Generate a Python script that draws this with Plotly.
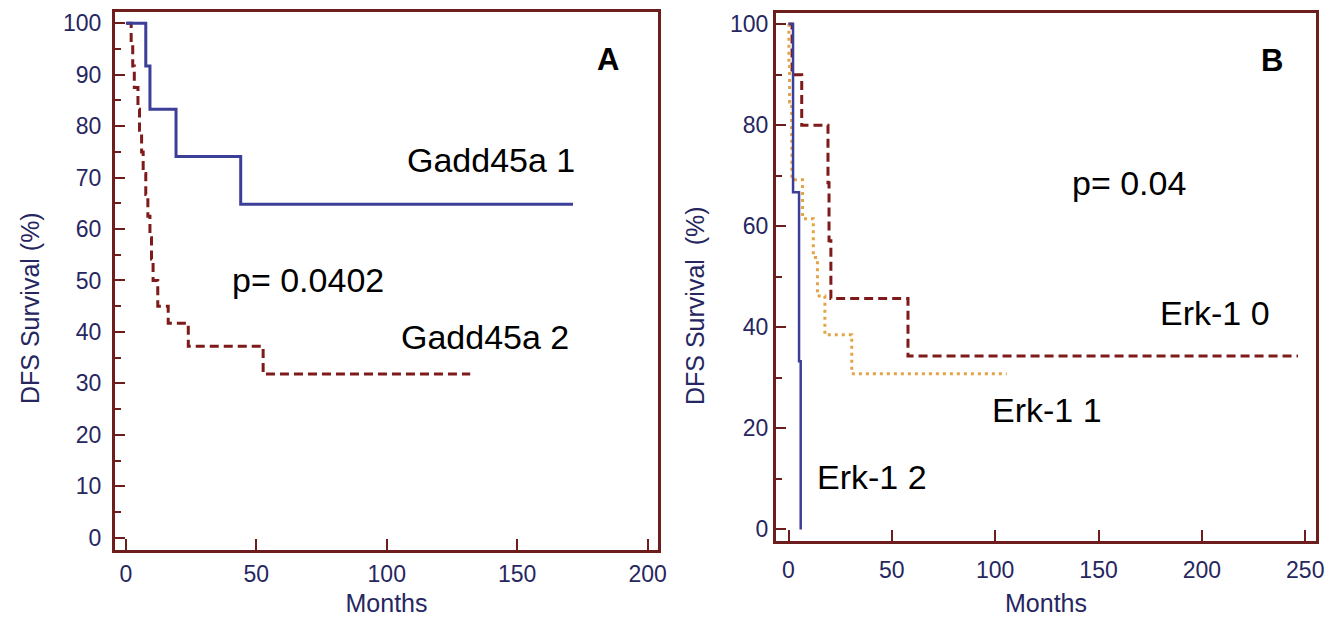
import plotly.graph_objects as go

# ---------------- data ----------------
# Panel A : Gadd45a
a1_months = [0, 7.6, 9.2, 19.2, 44.0, 171.4]
a1_surv = [100, 91.7, 83.3, 74.1, 64.8, 64.8]
a2_months = [0.3, 2.0, 2.6, 3.2, 4.6, 5.2, 6.0, 6.6, 7.6, 8.4, 9.2, 9.8, 10.4, 12.2, 16.2, 23.9, 52.6, 132.0]
a2_surv = [100, 95.8, 91.7, 87.5, 83.3, 79.2, 75.0, 70.8, 66.7, 62.5, 58.3, 54.2, 50.0, 45.0, 41.7, 37.2, 31.8, 31.8]

# Panel B : Erk-1
b0_months = [0, 1.7, 6.4, 19.1, 19.6, 20.5, 57.8, 246.5]
b0_surv = [100, 90, 80, 68.6, 57.1, 45.7, 34.3, 34.3]
b1_months = [0, 0.2, 0.5, 1.5, 1.6, 6.8, 12.0, 14.0, 17.6, 30.6, 105.6]
b1_surv = [100, 92.3, 84.6, 76.9, 69.2, 61.5, 53.8, 46.2, 38.5, 30.8, 30.8]
b2_months = [0, 2.2, 5.1, 5.9]
b2_surv = [100, 66.7, 33.3, 0]

a_xticks = [0, 50, 100, 150, 200]
b_xticks = [0, 50, 100, 150, 200, 250]

# ---------------- layout helpers ----------------
PAGE_W, PAGE_H = 1335, 625
OFF = 8                      # default body margin of the html page
W, H = PAGE_W - 2 * OFF, PAGE_H - 2 * OFF


def px_x(p):
    return (p - OFF) / W


def px_y(p):
    return 1 - (p - OFF) / H


FRAME = "#6e1d1d"
LABEL = "#262660"
BLUE = "#3b3f97"
RED = "#7e1a1a"
ORANGE = "#e2a446"
FONT = "Liberation Sans, Arial, sans-serif"

fig = go.Figure()

fig.add_trace(go.Scatter(x=a2_months, y=a2_surv, mode="lines", line_shape="hv",
                         line=dict(color=RED, width=3, dash="9px,5px"),
                         xaxis="x", yaxis="y", name="Gadd45a 2"))
fig.add_trace(go.Scatter(x=a1_months, y=a1_surv, mode="lines", line_shape="hv",
                         line=dict(color=BLUE, width=3),
                         xaxis="x", yaxis="y", name="Gadd45a 1"))

fig.add_trace(go.Scatter(x=b0_months, y=b0_surv, mode="lines", line_shape="hv",
                         line=dict(color=RED, width=3, dash="9px,5px"),
                         xaxis="x2", yaxis="y2", name="Erk-1 0"))
fig.add_trace(go.Scatter(x=b1_months, y=b1_surv, mode="lines", line_shape="hv",
                         line=dict(color=ORANGE, width=3, dash="3px,4px"),
                         xaxis="x2", yaxis="y2", name="Erk-1 1"))
fig.add_trace(go.Scatter(x=b2_months, y=b2_surv, mode="lines", line_shape="hv",
                         line=dict(color=BLUE, width=2.5),
                         xaxis="x2", yaxis="y2", name="Erk-1 2"))

tickfont = dict(family=FONT, size=23, color=LABEL)
titlefont = dict(family=FONT, size=25, color=LABEL)


def xaxis_style(domain, rng, ticks, anchor, standoff):
    return dict(domain=domain, range=rng, anchor=anchor, tickvals=ticks,
                ticks="inside", ticklen=11, tickwidth=2, tickcolor=FRAME,
                showline=True, linecolor=FRAME, linewidth=3, mirror=True,
                showgrid=False, zeroline=False, automargin=False,
                tickfont=tickfont, ticklabelstandoff=standoff,
                title=dict(text="Months", font=titlefont, standoff=21))


def yaxis_style(domain, rng, dtick, minor, anchor, standoff):
    return dict(domain=domain, range=rng, anchor=anchor, tick0=0, dtick=dtick,
                ticks="inside", ticklen=10, tickwidth=2, tickcolor=FRAME,
                minor=dict(ticks="inside", ticklen=6, tickwidth=2, tickcolor=FRAME,
                           dtick=minor, tick0=0),
                showline=True, linecolor=FRAME, linewidth=3, mirror=True,
                showgrid=False, zeroline=False, automargin=False,
                tickfont=tickfont, ticklabelstandoff=standoff)


fig.update_layout(
    width=W, height=H,
    margin=dict(l=0, r=0, t=0, b=0),
    paper_bgcolor="white", plot_bgcolor="white",
    showlegend=False,
    font=dict(family=FONT),
    xaxis=xaxis_style([px_x(115), px_x(658)], [-4.2, 204], a_xticks, "y", 1),
    yaxis=yaxis_style([px_y(550), px_y(12)], [-2.4, 102.2], 10, 5, "x", 6),
    xaxis2=xaxis_style([px_x(776), px_x(1316)], [-6.05, 255.2], b_xticks, "y2", 6),
    yaxis2=yaxis_style([px_y(541), px_y(13)], [-2.3, 102.2], 20, 10, "x2", 0),
)

# y-axis titles
for xp, yp, t in [(30, 308, "DFS Survival (%)"), (695, 305, "DFS Survival  (%)")]:
    fig.add_annotation(xref="paper", yref="paper", x=px_x(xp), y=px_y(yp), text=t,
                       textangle=-90, showarrow=False, font=titlefont,
                       xanchor="center", yanchor="middle")

txt = dict(family=FONT, size=34, color="black")
bold = dict(family=FONT, size=31, color="black", weight="bold")
annots = [
    ("x", "y", 184.8, 92.9, "<b>A</b>", bold),
    ("x", "y", 140.0, 73.4, "Gadd45a 1", txt),
    ("x", "y", 69.8, 50.1, "p= 0.0402", txt),
    ("x", "y", 137.7, 39.0, "Gadd45a 2", txt),
    ("x2", "y2", 233.9, 92.7, "<b>B</b>", bold),
    ("x2", "y2", 164.7, 68.5, "p= 0.04", txt),
    ("x2", "y2", 206.3, 42.8, "Erk-1 0", txt),
    ("x2", "y2", 125.1, 23.6, "Erk-1 1", txt),
    ("x2", "y2", 40.4, 10.4, "Erk-1 2", txt),
]
for xr, yr, x, y, t, f in annots:
    fig.add_annotation(xref=xr, yref=yr, x=x, y=y, text=t, showarrow=False,
                       font=f, xanchor="center", yanchor="middle")

fig.write_html("out.html")
